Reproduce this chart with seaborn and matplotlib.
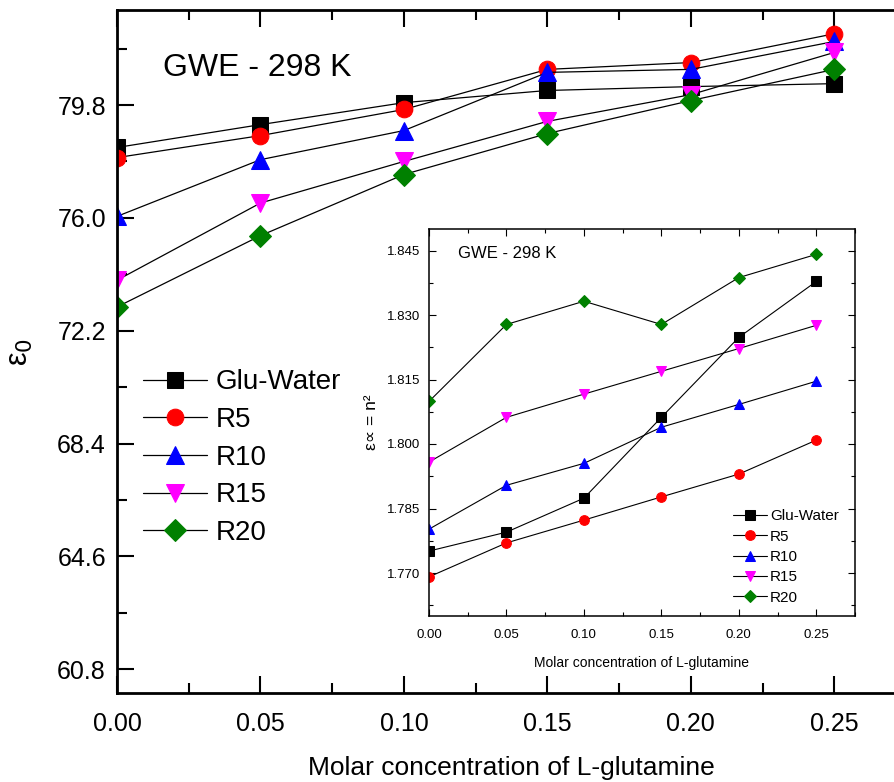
import matplotlib
matplotlib.use("Agg")
import matplotlib.pyplot as plt
import seaborn as sns
import pandas as pd
from matplotlib.ticker import MultipleLocator, FixedLocator

conc = [0.00, 0.05, 0.10, 0.15, 0.20, 0.25]
series_names = ["Glu-Water", "R5", "R10", "R15", "R20"]

# main plot: static permittivity eps0
eps0_glu = [78.37, 79.14, 79.88, 80.29, 80.42, 80.52]
eps0_r5 = [78.03, 78.77, 79.65, 81.00, 81.23, 82.20]
eps0_r10 = [76.05, 77.96, 78.94, 80.90, 81.00, 81.94]
eps0_r15 = [73.90, 76.50, 77.90, 79.25, 80.15, 81.57]
eps0_r20 = [73.00, 75.40, 77.46, 78.84, 79.95, 81.00]

# inset: eps_inf = n^2
einf_glu = [1.7751, 1.7795, 1.7874, 1.8062, 1.8248, 1.8378]
einf_r5 = [1.7691, 1.7770, 1.7823, 1.7877, 1.7930, 1.8009]
einf_r10 = [1.7802, 1.7904, 1.7955, 1.8039, 1.8092, 1.8146]
einf_r15 = [1.7958, 1.8062, 1.8116, 1.8169, 1.8222, 1.8276]
einf_r20 = [1.8099, 1.8278, 1.8332, 1.8278, 1.8387, 1.8441]

main_ticks = [60.8, 64.6, 68.4, 72.2, 76.0, 79.8]
inset_ticks = [1.770, 1.785, 1.800, 1.815, 1.830, 1.845]
x_ticks = [0.00, 0.05, 0.10, 0.15, 0.20, 0.25]

sns.set_theme(style="ticks")
plt.rcParams["font.family"] = ["Liberation Sans", "DejaVu Sans"]
plt.rcParams["mathtext.fontset"] = "dejavusans"
for k in ["text.color", "axes.labelcolor", "xtick.color", "ytick.color",
          "axes.edgecolor"]:
    plt.rcParams[k] = "black"

colors = ["black", "red", "blue", "magenta", "green"]
markers = ["s", "o", "^", "v", "D"]
msizes_main = [11, 12, 13, 13, 11]
msizes_inset = [6.5, 7, 7.5, 7.5, 6.5]

fig = plt.figure(figsize=(8.95, 7.82), dpi=100)
W, H = 895, 782
ax = fig.add_axes([117 / W, (H - 693) / H, (906 - 117) / W, (693 - 10) / H])

main_vals = [eps0_glu, eps0_r5, eps0_r10, eps0_r15, eps0_r20]
for name, vals, c, m, ms in zip(series_names, main_vals, colors, markers, msizes_main):
    df = pd.DataFrame({"x": conc, "y": vals})
    sns.lineplot(data=df, x="x", y="y", ax=ax, color="black", lw=0.9,
                 marker=m, markersize=ms, markerfacecolor=c, markeredgecolor=c,
                 label=name)

ax.set_xlim(0, 0.275)
ax.set_ylim(60.0, 83.0)
ax.xaxis.set_major_locator(FixedLocator(x_ticks))
ax.xaxis.set_minor_locator(MultipleLocator(0.025))
ax.yaxis.set_major_locator(FixedLocator(main_ticks))
ax.yaxis.set_minor_locator(MultipleLocator(1.9))
ax.set_xticklabels([f"{v:.2f}" for v in x_ticks])
ax.set_yticklabels([f"{v:.1f}" for v in main_ticks])
ax.tick_params(axis="both", which="major", direction="in", length=12, width=1.5,
               labelsize=18, pad=8)
ax.tick_params(axis="both", which="minor", direction="in", length=7, width=1.5)
ax.tick_params(axis="x", which="both", top=True)
ax.tick_params(axis="x", which="major", pad=14)
for s in ax.spines.values():
    s.set_linewidth(2)
ax.set_xlabel("Molar concentration of L-glutamine", fontsize=19, labelpad=14)
ax.set_ylabel("ε$_0$", fontsize=22, labelpad=16)
ax.text(163 / W, 1 - 68 / H, "GWE - 298 K", transform=fig.transFigure,
        fontsize=23, va="center", ha="left")
leg = ax.legend(loc="upper left", bbox_to_anchor=(124 / W, 1 - 350 / H),
                bbox_transform=fig.transFigure, frameon=False, fontsize=20,
                handlelength=2.3, handletextpad=0.3, labelspacing=0.42,
                borderpad=0.2)

# inset
axi = fig.add_axes([429 / W, (H - 616) / H, (855 - 429) / W, (616 - 229) / H])
inset_vals = [einf_glu, einf_r5, einf_r10, einf_r15, einf_r20]
for name, vals, c, m, ms in zip(series_names, inset_vals, colors, markers, msizes_inset):
    df = pd.DataFrame({"x": conc, "y": vals})
    sns.lineplot(data=df, x="x", y="y", ax=axi, color="black", lw=0.8,
                 marker=m, markersize=ms, markerfacecolor=c, markeredgecolor=c,
                 label=name)
axi.set_xlim(0, 0.275)
axi.set_ylim(1.760, 1.850)
axi.xaxis.set_major_locator(FixedLocator(x_ticks))
axi.xaxis.set_minor_locator(MultipleLocator(0.025))
axi.yaxis.set_major_locator(FixedLocator(inset_ticks))
axi.yaxis.set_minor_locator(MultipleLocator(0.0075))
axi.set_xticklabels([f"{v:.2f}" for v in x_ticks])
axi.set_yticklabels([f"{v:.3f}" for v in inset_ticks])
axi.tick_params(axis="both", which="major", direction="in", length=5, width=0.8,
                labelsize=9.5, pad=6)
axi.tick_params(axis="x", which="major", pad=9)
axi.tick_params(axis="both", which="minor", direction="in", length=3, width=0.8)
axi.tick_params(axis="both", which="both", top=True, right=True)
for s in axi.spines.values():
    s.set_linewidth(1.1)
axi.set_xlabel("Molar concentration of L-glutamine", fontsize=10, labelpad=11)
axi.set_ylabel("ε∝ = n²", fontsize=12.5, labelpad=6)
axi.text(458 / W, 1 - 253 / H, "GWE - 298 K", transform=fig.transFigure,
         fontsize=12, va="center", ha="left")
axi.legend(loc="upper left", bbox_to_anchor=(724 / W, 1 - 500 / H),
           bbox_transform=fig.transFigure, frameon=False, fontsize=11,
           handlelength=2.2, handletextpad=0.2, labelspacing=0.42, borderpad=0.1)

fig.savefig("out.png", dpi=100)
